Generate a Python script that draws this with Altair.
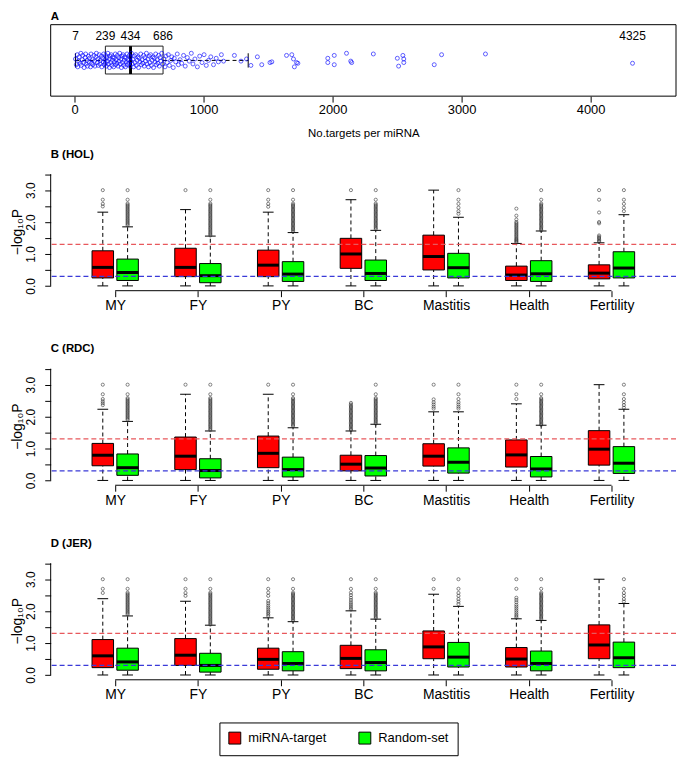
import altair as alt
import pandas as pd

FONT = "Liberation Sans"

TRAITS = ["MY", "FY", "PY", "BC", "Mastitis", "Health", "Fertility"]
SETS = ["miRNA-target", "Random-set"]
SET_COLORS = ["#FF0000", "#00FF00"]
SIG_P05 = 1.301   # -log10(0.05)
SIG_P50 = 0.301   # -log10(0.5)
Y_TICKS = [0, 0.5, 1.0, 1.5, 2.0, 2.5, 3.0, 3.5]
A_TICKS = [0, 1000, 2000, 3000, 4000]

# ---------------- Panel A: number of targets per miRNA ----------------
A_STATS = [7, 239, 434, 686, 4325]      # min, Q1, median, Q3, max (labels)
A_UPPER_WHISKER = 1346
A_DENSE_N = [7, 14, 21, 25, 33, 36, 44, 49, 52, 60, 63, 71, 74, 82, 86, 89, 97, 100, 108, 113,
             115, 124, 128, 131, 139, 142, 150, 155, 158, 166, 169, 177, 181, 184, 192, 197, 199,
             208, 211, 218, 223, 226, 231, 235, 238,
             241, 246, 249, 255, 258, 262, 268, 271, 275, 281, 284, 289, 294, 297, 303, 306, 310,
             316, 319, 323, 329, 332, 337, 342, 345, 350, 355, 359, 363, 368, 372, 376, 381, 385,
             389, 394, 398, 402, 407, 411, 415, 420, 424, 428, 432,
             436, 441, 447, 452, 458, 463, 469, 474, 479, 485, 491, 496, 501, 507, 513, 518, 523,
             529, 535, 540, 546, 551, 557, 562, 568, 573, 579, 585, 590, 596, 601, 607, 612, 618,
             624, 629, 635, 640, 646, 651, 657, 663, 669, 676, 684,
             692, 701, 709, 718, 727, 735, 746, 754, 765, 773, 784, 796, 805, 818, 830, 845, 858,
             874, 889, 905, 918, 933, 952, 970, 988, 1004, 1021, 1038, 1056, 1077, 1098, 1115]
A_DENSE_J = [0.52, 0.44, 0.58, 0.41, 0.49, 0.55, 0.46, 0.60, 0.43, 0.51, 0.57, 0.47, 0.40, 0.54,
             0.59, 0.45, 0.50, 0.42, 0.56, 0.48, 0.53, 0.41, 0.59, 0.46, 0.51, 0.44, 0.57, 0.49,
             0.42, 0.55, 0.60, 0.47, 0.52, 0.43, 0.58, 0.45, 0.50, 0.56, 0.41, 0.53, 0.48, 0.59,
             0.44, 0.51, 0.46,
             0.57, 0.42, 0.54, 0.49, 0.60, 0.45, 0.52, 0.40, 0.56, 0.47, 0.58, 0.43, 0.50, 0.55,
             0.41, 0.53, 0.48, 0.59, 0.44, 0.51, 0.46, 0.57, 0.42, 0.54, 0.49, 0.60, 0.45, 0.52,
             0.40, 0.56, 0.47, 0.58, 0.43, 0.50, 0.55, 0.41, 0.53, 0.48, 0.59, 0.44, 0.51, 0.46,
             0.57, 0.42, 0.54,
             0.49, 0.60, 0.45, 0.52, 0.41, 0.56, 0.47, 0.58, 0.43, 0.50, 0.55, 0.40, 0.53, 0.48,
             0.59, 0.44, 0.51, 0.46, 0.57, 0.42, 0.54, 0.49, 0.60, 0.45, 0.52, 0.41, 0.56, 0.47,
             0.58, 0.43, 0.50, 0.55, 0.40, 0.53, 0.48, 0.59, 0.44, 0.51, 0.46, 0.57, 0.42, 0.54,
             0.49, 0.60, 0.45,
             0.52, 0.41, 0.56, 0.47, 0.58, 0.43, 0.50, 0.55, 0.40, 0.53, 0.48, 0.59, 0.44, 0.51,
             0.46, 0.57, 0.42, 0.54, 0.49, 0.60, 0.45, 0.52, 0.41, 0.56, 0.47, 0.58, 0.43, 0.50,
             0.55, 0.44, 0.53, 0.48]
A_SPARSE_N = [1138, 1155, 1239, 1290, 1333, 1367, 1417, 1451, 1515, 1529, 1643, 1684, 1697, 1704,
              1721, 1731, 1963, 1963, 2013, 2013, 2108, 2141, 2148, 2316, 2502, 2512, 2545, 2552,
              2552, 2788, 2845, 3185, 4325]
A_SPARSE_J = [0.58, 0.49, 0.57, 0.49, 0.52, 0.43, 0.55, 0.44, 0.47, 0.48, 0.57, 0.58, 0.52, 0.41,
              0.47, 0.46, 0.53, 0.47, 0.57, 0.44, 0.60, 0.49, 0.47, 0.59, 0.53, 0.42, 0.57, 0.52,
              0.47, 0.44, 0.58, 0.59, 0.46]

# ---------------- Box statistics [lower whisker, Q1, median, Q3, upper whisker] ----------------
HOL_TARGET = [[0, 0.25, 0.58, 1.10, 2.31], [0, 0.29, 0.58, 1.18, 2.39], [0, 0.29, 0.65, 1.12, 2.31],
              [0, 0.55, 1.00, 1.49, 2.70], [0, 0.50, 0.92, 1.59, 3.00], [0, 0.17, 0.34, 0.62, 1.33],
              [0, 0.22, 0.40, 0.66, 1.35]]
HOL_RANDOM = [[0, 0.17, 0.42, 0.84, 1.85], [0, 0.10, 0.32, 0.70, 1.56], [0, 0.14, 0.37, 0.76, 1.67],
              [0, 0.17, 0.39, 0.81, 1.74], [0, 0.25, 0.57, 1.02, 2.15], [0, 0.14, 0.38, 0.79, 1.72],
              [0, 0.25, 0.56, 1.07, 2.23]]
RDC_TARGET = [[0, 0.46, 0.79, 1.16, 2.23], [0, 0.34, 0.76, 1.36, 2.70], [0, 0.40, 0.85, 1.39, 2.70],
              [0, 0.30, 0.51, 0.79, 1.55], [0, 0.45, 0.76, 1.15, 2.15], [0, 0.42, 0.80, 1.27, 2.40],
              [0, 0.48, 0.98, 1.56, 3.00]]
RDC_RANDOM = [[0, 0.16, 0.40, 0.83, 1.85], [0, 0.08, 0.31, 0.68, 1.55], [0, 0.11, 0.34, 0.73, 1.65],
              [0, 0.14, 0.39, 0.78, 1.76], [0, 0.23, 0.57, 1.02, 2.15], [0, 0.11, 0.36, 0.75, 1.73],
              [0, 0.22, 0.54, 1.06, 2.23]]
JER_TARGET = [[0, 0.23, 0.60, 1.11, 2.39], [0, 0.30, 0.62, 1.14, 2.31], [0, 0.18, 0.49, 0.84, 1.79],
              [0, 0.20, 0.52, 0.93, 2.01], [0, 0.51, 0.88, 1.38, 2.53], [0, 0.25, 0.50, 0.86, 1.76],
              [0, 0.51, 0.94, 1.57, 3.00]]
JER_RANDOM = [[0, 0.15, 0.41, 0.84, 1.85], [0, 0.09, 0.30, 0.68, 1.56], [0, 0.13, 0.36, 0.73, 1.67],
              [0, 0.13, 0.39, 0.79, 1.75], [0, 0.25, 0.56, 1.02, 2.15], [0, 0.13, 0.36, 0.75, 1.71],
              [0, 0.23, 0.54, 1.03, 2.24]]

# ---------------- Outliers ----------------
OUT_TO_190 = [3.0, 2.7, 2.58, 2.54, 2.5, 2.46, 2.42, 2.38, 2.34, 2.3, 2.26, 2.22, 2.18, 2.14, 2.1,
              2.06, 2.02, 1.98, 1.94, 1.9]
OUT_TO_178 = [3.0, 2.7, 2.58, 2.54, 2.5, 2.46, 2.42, 2.38, 2.34, 2.3, 2.26, 2.22, 2.18, 2.14, 2.1,
              2.06, 2.02, 1.98, 1.94, 1.9, 1.86, 1.82, 1.78]
OUT_TO_174 = [3.0, 2.7, 2.58, 2.54, 2.5, 2.46, 2.42, 2.38, 2.34, 2.3, 2.26, 2.22, 2.18, 2.14, 2.1,
              2.06, 2.02, 1.98, 1.94, 1.9, 1.86, 1.82, 1.78, 1.74]
OUT_TO_170 = [3.0, 2.7, 2.58, 2.54, 2.5, 2.46, 2.42, 2.38, 2.34, 2.3, 2.26, 2.22, 2.18, 2.14, 2.1,
              2.06, 2.02, 1.98, 1.94, 1.9, 1.86, 1.82, 1.78, 1.74, 1.7]
OUT_TO_158 = [3.0, 2.7, 2.58, 2.54, 2.5, 2.46, 2.42, 2.38, 2.34, 2.3, 2.26, 2.22, 2.18, 2.14, 2.1,
              2.06, 2.02, 1.98, 1.94, 1.9, 1.86, 1.82, 1.78, 1.74, 1.7, 1.66, 1.62, 1.58]

HOL_TARGET_OUT = [[3.0, 2.7, 2.57, 2.49], [3.0], [3.0, 2.7, 2.57, 2.48], [3.0], [],
                  [2.42, 2.2, 2.08, 2.0, 1.96, 1.92, 1.88, 1.84, 1.8, 1.76, 1.72, 1.68, 1.64, 1.6,
                   1.56, 1.52, 1.48, 1.45, 1.42, 1.39, 1.36],
                  [3.0, 2.7, 2.3, 2.0, 1.96, 1.58, 1.54, 1.5, 1.46, 1.42, 1.39]]
HOL_RANDOM_OUT = [OUT_TO_190, OUT_TO_158, OUT_TO_170, OUT_TO_178,
                  [3.0, 2.7, 2.57, 2.45, 2.34, 2.26], OUT_TO_174, [3.0, 2.7, 2.57, 2.45, 2.34]]
RDC_TARGET_OUT = [[3.0, 2.7, 2.55, 2.48, 2.42, 2.36], [3.0], [3.0],
                  [2.43, 2.38, 2.34, 2.3, 2.26, 2.22, 2.18, 2.14, 2.1, 2.06, 2.02, 1.98, 1.94, 1.9,
                   1.86, 1.82, 1.78, 1.74, 1.7, 1.66, 1.62, 1.58],
                  [3.0, 2.54, 2.45, 2.38, 2.31, 2.25], [3.0, 2.7, 2.55], []]
RDC_RANDOM_OUT = [OUT_TO_190, OUT_TO_158, OUT_TO_170, OUT_TO_178,
                  [3.0, 2.7, 2.55, 2.45, 2.38, 2.31, 2.25], OUT_TO_174,
                  [3.0, 2.7, 2.55, 2.45, 2.36, 2.28]]
JER_TARGET_OUT = [[3.0, 2.7, 2.57], [3.0, 2.7, 2.57, 2.48],
                  [3.0, 2.7, 2.58, 2.48, 2.32, 2.25, 2.18, 2.12, 2.06, 2.0, 1.95, 1.9, 1.85],
                  [3.0, 2.7, 2.58, 2.5, 2.42, 2.35, 2.28, 2.22, 2.16, 2.1, 2.05],
                  [3.0, 2.7],
                  [3.0, 2.7, 2.42, 2.35, 2.28, 2.2, 2.14, 2.08, 2.02, 1.96, 1.9, 1.85, 1.8], []]
JER_RANDOM_OUT = [OUT_TO_190, OUT_TO_158, OUT_TO_170, OUT_TO_178,
                  [3.0, 2.7, 2.57, 2.48, 2.38, 2.3, 2.22], OUT_TO_174,
                  [3.0, 2.7, 2.57, 2.48, 2.38, 2.3]]

# ---------------- Layout ----------------
W = 630
H_A = 72
H_P = 119
X_DOM_A = [-185, 4662]
X_DOM_P = [0.22, 7.78]
Y_DOM_P = [-0.15, 3.55]


def panel_a():
    pts = pd.DataFrame(list(zip(A_DENSE_N + A_SPARSE_N, A_DENSE_J + A_SPARSE_J)), columns=["n", "j"])
    st = pd.DataFrame([{"lo": A_STATS[0], "q1": A_STATS[1], "med": A_STATS[2],
                        "q3": A_STATS[3], "hi": A_UPPER_WHISKER}])
    lab = pd.DataFrame({"v": A_STATS})
    xs = alt.Scale(domain=X_DOM_A, nice=False, zero=False)
    ys = alt.Scale(domain=[0, 1], nice=False, zero=False)
    xax = alt.Axis(values=A_TICKS, title="No.targets per miRNA", domain=False, grid=False,
                   tickSize=6, labelPadding=1, labelFontSize=13, titleFontSize=11.5,
                   titleFontWeight="normal", titlePadding=12, labelFlush=False, format="d")

    def X(f):
        return alt.X(f, type="quantitative", scale=xs, axis=xax)

    def Yd(v):
        return alt.YDatum(v, type="quantitative", scale=ys, axis=None)

    frame = alt.Chart(lab.head(1)).mark_rect(fillOpacity=0, stroke="black", strokeWidth=1).encode(
        x=alt.value(0), x2=alt.value(W), y=alt.value(0), y2=alt.value(H_A))
    box = alt.Chart(st).mark_rect(fillOpacity=0, stroke="#222222", strokeWidth=1).encode(
        x=X("q1"), x2=alt.X2("q3"), y=Yd(0.31), y2=alt.Y2Datum(0.70))
    med = alt.Chart(st).mark_rule(color="black", strokeWidth=3).encode(
        x=X("med"), y=Yd(0.31), y2=alt.Y2Datum(0.70))
    wh = alt.Chart(st).mark_rule(color="black", strokeDash=[4, 3]).encode(
        x=X("q3"), x2=alt.X2("hi"), y=Yd(0.5))
    wl = alt.Chart(st).mark_rule(color="black", strokeDash=[4, 3]).encode(
        x=X("lo"), x2=alt.X2("q1"), y=Yd(0.5))
    ch = alt.Chart(st).mark_rule(color="black").encode(x=X("hi"), y=Yd(0.4), y2=alt.Y2Datum(0.6))
    cl = alt.Chart(st).mark_rule(color="black").encode(x=X("lo"), y=Yd(0.4), y2=alt.Y2Datum(0.6))
    points = alt.Chart(pts).mark_point(shape="circle", filled=False, color="#0000FF", size=16,
                                       strokeWidth=0.9).encode(
        x=X("n"), y=alt.Y("j", type="quantitative", scale=ys, axis=None))
    labels = alt.Chart(lab).mark_text(fontSize=12, baseline="middle", color="black").encode(
        x=X("v"), y=Yd(0.845), text=alt.Text("v:Q", format="d"))
    title = alt.Chart(pd.DataFrame({"t": ["A"]})).mark_text(
        align="left", baseline="top", fontWeight="bold", fontSize=11.5, color="black").encode(
        x=alt.value(0), y=alt.value(-14), text="t:N")
    return alt.layer(frame, box, med, wh, wl, ch, cl, points, labels, title).properties(
        width=W, height=H_A)


def panel(label, tgt, rnd, tgt_out, rnd_out):
    rows = []
    for si, stats in enumerate([tgt, rnd]):
        for ti, s in enumerate(stats):
            rows.append({"pos": ti + 1, "set": SETS[si], "lw": s[0], "q1": s[1], "med": s[2],
                         "q3": s[3], "uw": s[4]})
    box_df = pd.DataFrame(rows)
    orows = []
    for si, outs in enumerate([tgt_out, rnd_out]):
        for ti, vals in enumerate(outs):
            for v in vals:
                orows.append({"pos": ti + 1, "set": SETS[si], "v": v})
    out_df = pd.DataFrame(orows)

    xs = alt.Scale(domain=X_DOM_P, nice=False, zero=False)
    ys = alt.Scale(domain=Y_DOM_P, nice=False, zero=False)
    names = "[" + ",".join("'%s'" % t for t in TRAITS) + "]"
    xax = alt.Axis(values=list(range(1, len(TRAITS) + 1)), labelExpr=names + "[datum.value - 1]",
                   title=None, domain=False, grid=False, tickSize=6, labelPadding=2,
                   labelFontSize=14, labelOverlap=False, labelFlush=False)
    yax = alt.Axis(values=Y_TICKS,
                   labelExpr="datum.value % 1 == 0 ? format(datum.value, '.1f') : ''",
                   title="\u2212log\u2081\u2080P", titleFontSize=14, titleFontWeight="normal",
                   titlePadding=0, domain=False, grid=False, tickSize=6, labelPadding=7,
                   labelFontSize=12, labelAngle=270, labelAlign="center", labelBaseline="bottom",
                   labelOverlap=False, labelFlush=False)

    def X(f):
        return alt.X(f, type="quantitative", scale=xs, axis=xax)

    def Y(f):
        return alt.Y(f, type="quantitative", scale=ys, axis=yax)

    offset = "datum.pos + (datum.set == '%s' ? -0.15 : 0.15)" % SETS[0]
    b = alt.Chart(box_df).transform_calculate(xc=offset).transform_calculate(
        xl="datum.xc - 0.13", xr="datum.xc + 0.13", cl="datum.xc - 0.065", cr="datum.xc + 0.065")

    w_up = b.mark_rule(color="black", strokeDash=[4, 3]).encode(x=X("xc"), y=Y("q3"), y2=alt.Y2("uw"))
    w_lo = b.mark_rule(color="black", strokeDash=[4, 3]).encode(x=X("xc"), y=Y("lw"), y2=alt.Y2("q1"))
    c_up = b.mark_rule(color="black").encode(x=X("cl"), x2=alt.X2("cr"), y=Y("uw"))
    c_lo = b.mark_rule(color="black").encode(x=X("cl"), x2=alt.X2("cr"), y=Y("lw"))
    legend = alt.Legend(title=None, orient="none", legendX=170, legendY=703, direction="horizontal",
                        symbolType="square", symbolSize=144, symbolStrokeColor="black",
                        symbolStrokeWidth=1, symbolOpacity=1, labelFontSize=13, labelFont=FONT,
                        labelColor="black", strokeColor="black", padding=9, columnPadding=30,
                        labelOffset=7, fillColor="white")
    rect = b.mark_rect(stroke="black", strokeWidth=1, opacity=1).encode(
        x=X("xl"), x2=alt.X2("xr"), y=Y("q1"), y2=alt.Y2("q3"),
        color=alt.Color("set:N", scale=alt.Scale(domain=SETS, range=SET_COLORS), legend=legend))
    med = b.mark_rule(color="black", strokeWidth=3).encode(x=X("xl"), x2=alt.X2("xr"), y=Y("med"))
    outl = alt.Chart(out_df).transform_calculate(xc=offset).mark_point(
        shape="circle", filled=False, color="#222222", size=10, strokeWidth=0.8).encode(
        x=X("xc"), y=Y("v"))
    red_line = alt.Chart(pd.DataFrame({"v": [SIG_P05]})).mark_rule(
        color="#E8585C", strokeDash=[5, 3], strokeWidth=1.3).encode(y=Y("v"))
    blue_line = alt.Chart(pd.DataFrame({"v": [SIG_P50]})).mark_rule(
        color="#3A3AD8", strokeDash=[5, 3], strokeWidth=1.3).encode(y=Y("v"))
    one = pd.DataFrame({"k": [0]})
    y_line = alt.Chart(one).mark_rule(color="black").encode(
        x=alt.value(0), y=alt.YDatum(Y_TICKS[0], type="quantitative", scale=ys, axis=yax),
        y2=alt.Y2Datum(Y_TICKS[-1]))
    x_line = alt.Chart(one).mark_rule(color="black").encode(
        x=alt.XDatum(1, type="quantitative", scale=xs, axis=xax), x2=alt.X2Datum(len(TRAITS)),
        y=alt.value(H_P))
    title = alt.Chart(pd.DataFrame({"t": [label]})).mark_text(
        align="left", baseline="middle", fontWeight="bold", fontSize=11.5, color="black").encode(
        x=alt.value(0), y=alt.value(-18), text="t:N")
    return alt.layer(w_up, w_lo, c_up, c_lo, rect, med, outl, red_line, blue_line, y_line, x_line,
                     title).properties(width=W, height=H_P)


pa = panel_a()
pb = panel("B (HOL)", HOL_TARGET, HOL_RANDOM, HOL_TARGET_OUT, HOL_RANDOM_OUT)
pc = panel("C (RDC)", RDC_TARGET, RDC_RANDOM, RDC_TARGET_OUT, RDC_RANDOM_OUT)
pdj = panel("D (JER)", JER_TARGET, JER_RANDOM, JER_TARGET_OUT, JER_RANDOM_OUT)

chart = alt.vconcat(pa, pb, pc, pdj, spacing=77, bounds="flush").resolve_scale(
    color="shared").properties(
    padding={"left": 3, "top": 0, "right": 0, "bottom": 0}, background="white").configure(
    font=FONT).configure_view(stroke=None).configure_axis(
    labelColor="black", titleColor="black", tickColor="black", tickWidth=1, labelFont=FONT,
    titleFont=FONT)

chart.save("out.html", embed_options={"renderer": "svg", "actions": False})
